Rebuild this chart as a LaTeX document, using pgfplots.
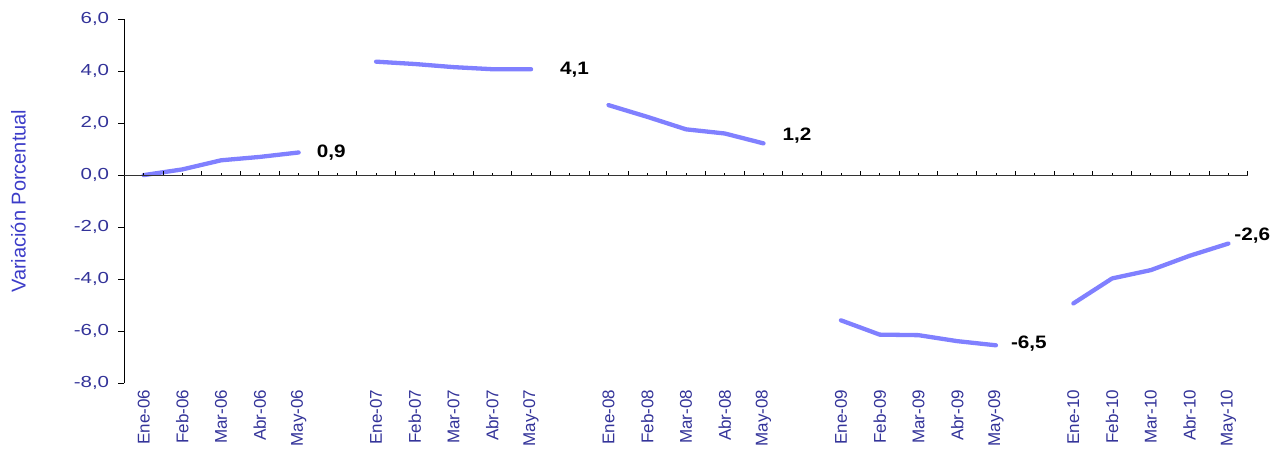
\documentclass[border=0pt]{standalone}
\usepackage{pgfplots}
\pgfplotsset{compat=1.18}
\usepackage{graphicx}
\usepackage{fontspec}
\setmainfont{Liberation Sans}
\definecolor{tickblue}{RGB}{51,51,153}
\definecolor{titleblue}{RGB}{60,60,200}
\definecolor{linecol}{RGB}{128,128,255}
\newcommand{\dl}[1]{\scalebox{1.15}[1]{#1}}
\tikzset{lab/.style={anchor=west, inner sep=0pt, font=\bfseries\fontsize{18}{18}\selectfont, text=black},
  dline/.style={color=linecol, mark=none, line width=4.3pt, line cap=round, line join=round}}
\begin{document}
\begin{tikzpicture}
\begin{axis}[name=ax, scale only axis, width=1123.4pt, height=364.3pt,
  xmin=-0.5, xmax=28.5, ymin=-8, ymax=6, clip=false,
  axis x line*=bottom, x axis line style={draw=none},
  axis y line*=left, y axis line style={-, black, line width=0.8pt},
  ytick={-8,-6,...,6},
  ytick align=outside, major tick length=6pt,
  y tick style={black, line width=0.8pt},
  xtick style={draw=none},
  /pgf/number format/.cd, fixed, fixed zerofill, precision=1, use comma, assume math mode=true,
  /pgfplots/.cd,
  yticklabel={\scalebox{1.28}[1]{\pgfmathprintnumber{\tick}}},
  yticklabel style={anchor=east, inner xsep=9pt, font=\fontsize{16}{16}\selectfont, text=tickblue},
  xtick={0,1,2,3,4,6,7,8,9,10,12,13,14,15,16,18,19,20,21,22,24,25,26,27,28},
  xticklabels={Ene-06,Feb-06,Mar-06,Abr-06,May-06,Ene-07,Feb-07,Mar-07,Abr-07,May-07,Ene-08,Feb-08,Mar-08,Abr-08,May-08,Ene-09,Feb-09,Mar-09,Abr-09,May-09,Ene-10,Feb-10,Mar-10,Abr-10,May-10},
  xticklabel shift=3pt,
  xticklabel style={rotate=90, anchor=east, font=\fontsize{17}{17}\selectfont, text=tickblue},
  every axis y label/.style={at={(rel axis cs:0,0.5)}, xshift=-106pt, rotate=90, anchor=center},
  ylabel={Variación Porcentual},
  ylabel style={font=\fontsize{20}{20}\selectfont, text=titleblue}
]
\addplot[dline] coordinates {(0,0.0) (1,0.22) (2,0.57) (3,0.7) (4,0.87)} node[pos=1, lab, xshift=16pt]{\dl{0,9}};
\addplot[dline] coordinates {(6,4.36) (7,4.27) (8,4.15) (9,4.07) (10,4.07)} node[pos=1, lab, xshift=27pt]{\dl{4,1}};
\addplot[dline] coordinates {(12,2.69) (13,2.24) (14,1.76) (15,1.6) (16,1.22)} node[pos=1, lab, xshift=17pt, yshift=8pt]{\dl{1,2}};
\addplot[dline] coordinates {(18,-5.58) (19,-6.13) (20,-6.15) (21,-6.38) (22,-6.54)} node[pos=1, lab, xshift=13pt, yshift=2pt]{\dl{-6,5}};
\addplot[dline] coordinates {(24,-4.93) (25,-3.97) (26,-3.65) (27,-3.1) (28,-2.63)} node[pos=1, lab, xshift=4pt, yshift=8pt]{\dl{-2,6}};
\end{axis}
\begin{axis}[scale only axis, width=1123.4pt, height=364.3pt,
  xmin=-0.5, xmax=28.5, ymin=-8, ymax=6,
  axis x line=middle, axis y line=none,
  x axis line style={-, black!80, line width=0.9pt},
  xtick={-0.5,0.5,...,28.5}, minor xtick={0,...,28},
  xticklabels={}, ytick=\empty,
  xtick align=inside, major tick length=4.5pt, minor tick length=2.5pt,
  tick style={black, line width=0.8pt}
]
\end{axis}
\pgfresetboundingbox
\path[use as bounding box] ([xshift=-124.3pt,yshift=-65.7pt]ax.south west) rectangle ([xshift=35.3pt,yshift=19pt]ax.north east);
\end{tikzpicture}
\end{document}
